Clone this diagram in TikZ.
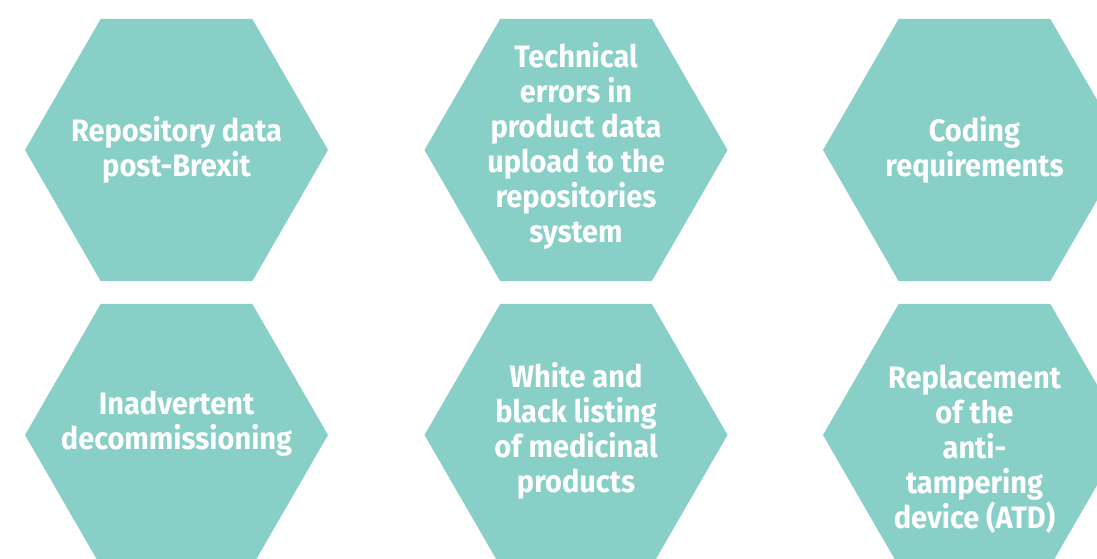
\documentclass[tikz,border=0pt]{standalone}
\usepackage{fontspec}
\setmainfont{Fira Sans}[FakeStretch=0.935]
\definecolor{hexteal}{HTML}{88CFC8}
\tikzset{hexlabel/.style={align=center, text=white, inner sep=0pt,
    font=\bfseries\fontsize{31}{35}\selectfont}}

\begin{document}
\begin{tikzpicture}[x=1pt,y=-1pt]
        \def\R{151.5}
        \def\colA{176.5}
        \def\colB{576}
        \def\colC{974.5}

        \useasboundingbox (0,0) rectangle (1097,558);
        \clip (0,0) rectangle (1097,558);

        % hexagons, flat top and bottom
        \foreach \cx/\cy in {\colA/150, \colB/150, \colC/150, \colA/435, \colB/435, \colC/435}
            \fill[hexteal] (\cx+\R,\cy) --++(120:\R) --++(180:\R) --++(240:\R) --++(300:\R) --++(0:\R) -- cycle;

        \node[hexlabel] (brexit) at (\colA,150) {Repository data\\post-Brexit};
        \node[hexlabel] (upload) at (\colB,146) {Technical\\errors in\\product data\\upload to the\\repositories\\system};
        \node[hexlabel] (coding) at (\colC,150) {Coding\\requirements};
        \node[hexlabel] (decomm) at (\colA,424) {Inadvertent\\decommissioning};
        \node[hexlabel] (listing) at (\colB,431) {White and\\black listing\\of medicinal\\products};
        \node[hexlabel] (atd) at (\colC,449) {Replacement\\of the\\anti-\\tampering\\device (ATD)};

    \end{tikzpicture}
\end{document}
